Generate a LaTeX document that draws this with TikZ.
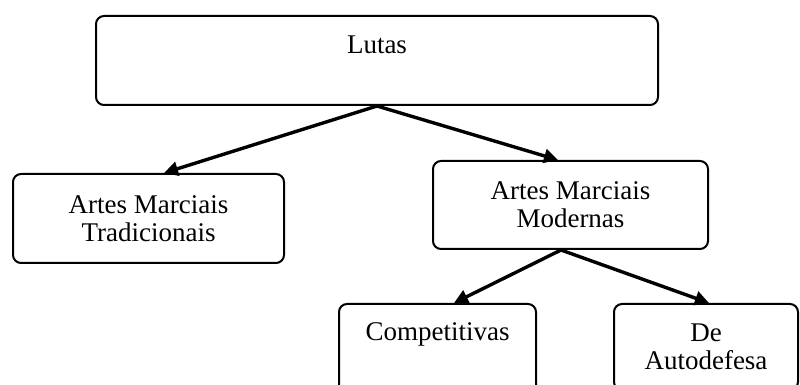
\documentclass[tikz,border=0pt]{standalone}
\usepackage{fontspec}
\setmainfont{Liberation Serif}
\usepackage{tikz}
\usetikzlibrary{arrows.meta}

\begin{document}
\begin{tikzpicture}[x=0.5pt,y=-0.5pt,
    every node/.style={draw=black, line width=1pt, rounded corners=4pt,
      inner sep=0pt, anchor=north west, align=center,
      font=\fontsize{13.5}{14}\selectfont},
    every edge/.style={draw, line width=1.7pt,
      -{Triangle[length=7pt,width=7pt]}}]
    \clip (0,0) rectangle (800,385);
    \node[minimum width=281pt, text height=19pt, text depth=25.5pt] (A) at (95,15) {Lutas};
    \node[minimum width=135.5pt, minimum height=44.5pt] (B1) at (12,173) {Artes Marciais\\Tradicionais};
    \node[minimum width=137.5pt, minimum height=44pt] (B2) at (432,160) {Artes Marciais\\Modernas};
    \node[minimum width=98.5pt, text height=18.5pt, text depth=40pt] (C1) at (338,303) {Competitivas};
    \node[minimum width=92pt, minimum height=43pt] (C2) at (613,303) {De\\Autodefesa};
    \path (A.south) edge ([xshift=7.75pt]B1.north);
    \path (A.south) edge ([xshift=-6.25pt]B2.north);
    \path ([xshift=-4.75pt]B2.south) edge ([xshift=8.25pt]C1.north);
    \path ([xshift=-4.75pt]B2.south) edge ([xshift=1.5pt]C2.north);
  \end{tikzpicture}
\end{document}
